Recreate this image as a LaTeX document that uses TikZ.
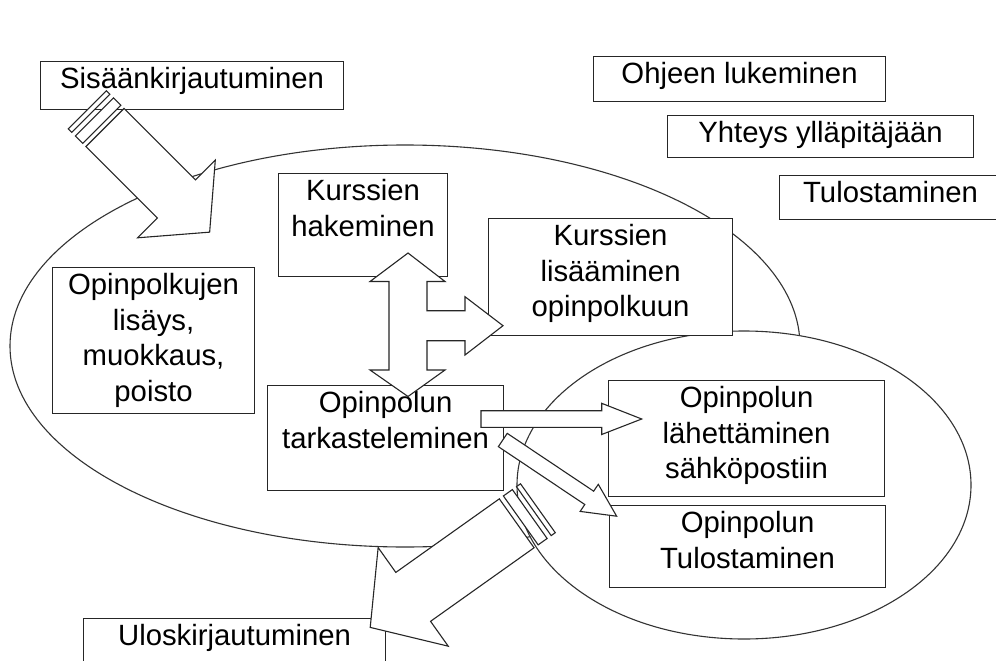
\documentclass[tikz,border=0pt]{standalone}
\usepackage{fontspec}
\setmainfont{Liberation Sans}
\newcommand\bxt[3]{\parbox[c][#2pt][t]{#1pt}{\centering\rule{0pt}{27pt}#3}}
\begin{document}
\begin{tikzpicture}[x=1pt,y=-1pt,
  box/.style={draw=black!85, line width=1.1pt, fill=white, inner sep=0pt, anchor=north west,
    font=\fontsize{29.3pt}{35.5pt}\selectfont},
  blockarrow/.style={draw=black!85, line width=1.1pt, fill=white, line join=miter},
  bubble/.style={draw=black!80, line width=1.1pt, fill=white}]
\useasboundingbox (0,0) rectangle (996,661);
\clip (0,0) rectangle (996,661);
\fill[white] (0,0) rectangle (996,661);

% ellipses
\draw[bubble] (405,346) ellipse [x radius=395, y radius=201];
\draw[bubble] (744,485) ellipse [x radius=227, y radius=154];

% boxes
\node[box] (sisaan) at (40,61) {\bxt{303}{48}{Sisäänkirjautuminen}};
\node[box] (ohje) at (593,56) {\bxt{292}{45}{Ohjeen lukeminen}};
\node[box] (yhteys) at (667,115) {\bxt{306}{42}{Yhteys ylläpitäjään}};
\node[box] (tulost) at (779,175) {\bxt{222}{44}{Tulostaminen}};
\node[box] (hake) at (278,173) {\bxt{169}{103}{Kurssien\\hakeminen}};
\node[box] (lisaa) at (488,218) {\bxt{244}{117}{Kurssien\\lisääminen\\opinpolkuun}};
\node[box] (polut) at (52,267) {\bxt{202}{146}{Opinpolkujen\\lisäys,\\muokkaus,\\poisto}};
\node[box] (tarkast) at (267,385) {\bxt{236}{105}{Opinpolun\\tarkasteleminen}};
\node[box] (laheta) at (608,380) {\bxt{276}{116}{Opinpolun\\lähettäminen\\sähköpostiin}};
\node[box] (tulost2) at (609,505) {\bxt{276}{82}{Opinpolun\\Tulostaminen}};
\node[box] (ulos) at (83,618) {\bxt{302}{60}{Uloskirjautuminen}};

% entry arrow (striped)
\begin{scope}[shift={(105,127.5)}, rotate=-45]
  \draw[blockarrow] (-25,-27) rectangle (-20,27);
  \draw[blockarrow] (-15,-27) rectangle (-4.5,27);
  \draw[blockarrow] (0,-27) -- (101,-27) -- (101,-55) -- (148,0) -- (101,55) -- (101,27) -- (0,27) -- cycle;
\end{scope}

% up-down-right arrow
\draw[blockarrow] (408,253) -- (445,281.5) -- (427,281.5) -- (427,310.7) -- (465,310.7) -- (465,296.7)
  -- (503,325.7) -- (465,355) -- (465,340.7) -- (427,340.7) -- (427,370) -- (445,370) -- (408,396.5)
  -- (370,370) -- (389,370) -- (389,281.5) -- (370,281.5) -- cycle;

% horizontal arrow
\draw[blockarrow] (481,410.7) -- (601.7,410.7) -- (601.7,403.3) -- (641.7,419) -- (601.7,434.5)
  -- (601.7,427.3) -- (481,427.3) -- cycle;

% diagonal arrow
\begin{scope}[shift={(502.8,440)}, rotate=-33.8]
  \draw[blockarrow] (0,-8) -- (104,-8) -- (104,-16.3) -- (137,0) -- (104,16.3) -- (104,8) -- (0,8) -- cycle;
\end{scope}

% exit arrow (striped)
\begin{scope}[shift={(516.7,523.3)}, rotate=-144.6]
  \draw[blockarrow] (-26,-30) rectangle (-21,30);
  \draw[blockarrow] (-16,-30) rectangle (-5,30);
  \draw[blockarrow] (0,-30) -- (127,-30) -- (127,-60.5) -- (179.7,0) -- (127,60.5) -- (127,30) -- (0,30) -- cycle;
\end{scope}
\end{tikzpicture}
\end{document}
